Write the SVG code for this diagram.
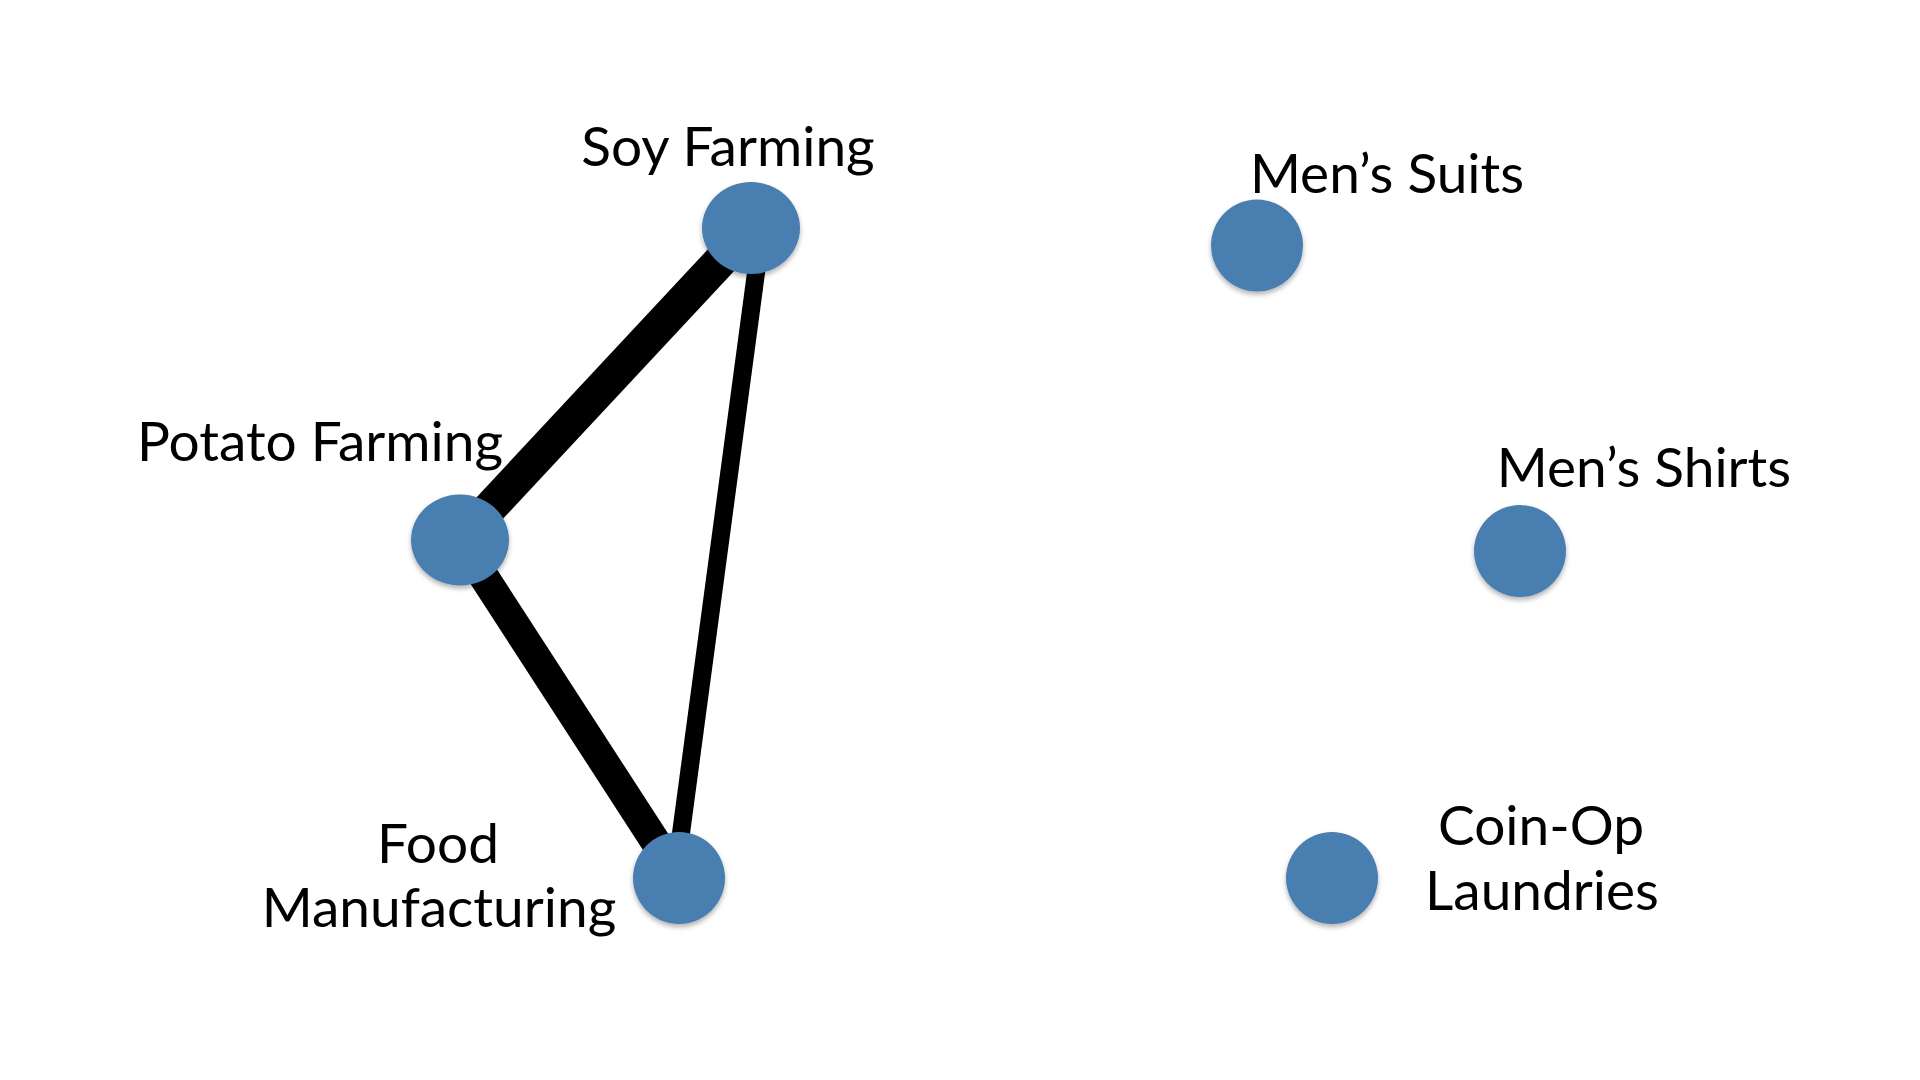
<svg xmlns="http://www.w3.org/2000/svg" width="1920" height="1080" viewBox="0 0 1920 1080">
  <defs>
    <filter id="shadow" x="-30%" y="-30%" width="160%" height="170%">
      <feDropShadow dx="0" dy="3" stdDeviation="2.5" flood-color="#000" flood-opacity="0.3"/>
    </filter>
  </defs>
  <style>
    .node { fill: #4a7eb0; filter: url(#shadow); }
    .label { font-family: Lato, "Liberation Sans", sans-serif; font-size: 55px; fill: #000; text-anchor: middle; }
    .edge { stroke: #000; fill: none; stroke-linecap: butt; }
  </style>
  <rect width="1920" height="1080" fill="#fff"/>
  <g id="connectors">
    <line class="edge" x1="751" y1="228" x2="460" y2="540" stroke-width="34"/>
    <line class="edge" x1="460" y1="540" x2="679" y2="878" stroke-width="30"/>
    <line class="edge" x1="762" y1="228" x2="675" y2="878" stroke-width="18"/>
  </g>
  <g id="soy-farming">
    <ellipse class="node" cx="751" cy="228" rx="49" ry="46"/>
    <text class="label" x="728" y="166">Soy Farming</text>
  </g>
  <g id="potato-farming">
    <ellipse class="node" cx="460" cy="540" rx="49" ry="45.5"/>
    <text class="label" x="320" y="461">Potato Farming</text>
  </g>
  <g id="food-manufacturing">
    <circle class="node" cx="679" cy="878" r="46"/>
    <text class="label" x="438" y="863">Food</text>
    <text class="label" x="439" y="927">Manufacturing</text>
  </g>
  <g id="mens-suits">
    <circle class="node" cx="1257" cy="245.5" r="46"/>
    <text class="label" x="1387" y="193">Men’s Suits</text>
  </g>
  <g id="mens-shirts">
    <circle class="node" cx="1520" cy="551" r="46"/>
    <text class="label" x="1644" y="487">Men’s Shirts</text>
  </g>
  <g id="coin-op-laundries">
    <circle class="node" cx="1332" cy="878" r="46"/>
    <text class="label" x="1541" y="845">Coin-Op</text>
    <text class="label" x="1542" y="910">Laundries</text>
  </g>
</svg>
